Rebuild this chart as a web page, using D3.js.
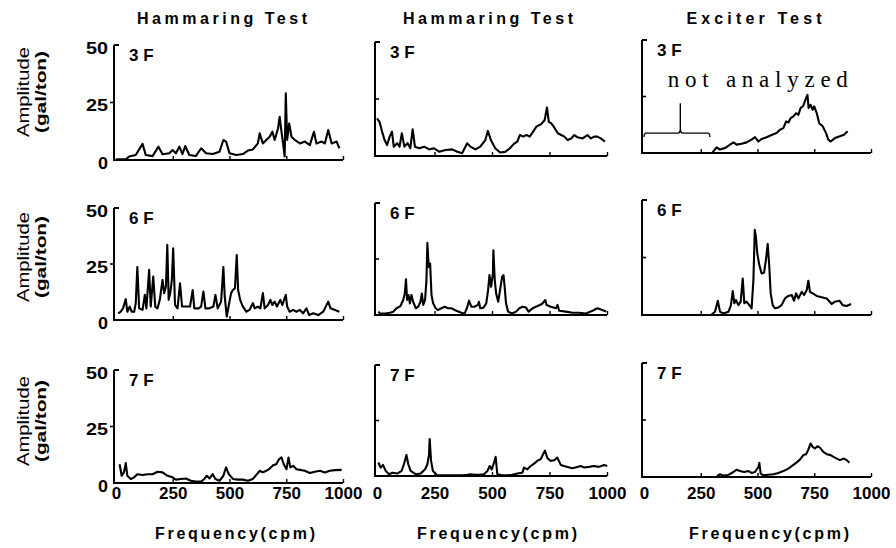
<!DOCTYPE html>
<html>
<head>
<meta charset="utf-8">
<script src="https://cdn.jsdelivr.net/npm/d3@7"></script>
<style>
  html, body { margin: 0; padding: 0; background: #fff; }
  svg { display: block; }
  text { font-family: "Liberation Sans", Arial, sans-serif; fill: #000; }
</style>
</head>
<body>
<svg id="chart" width="896" height="548"></svg>
<script>
// Column headings, floor labels and tick values
const testTitles = ["Hammaring Test", "Hammaring Test", "Exciter Test"];
const floorLabels = ["3 F", "6 F", "7 F"];
const freqTicks = [0, 250, 500, 750, 1000];
const ampTicks = [0, 25, 50];

// Fourier spectra, [frequency (cpm), amplitude (gal/ton)]
// Hammering test, first set
const hammer1_3F = [[0,0.3],[43,0.3],[58,1.5],[87,2.2],[117,7],[131,2.2],[161,1.7],[187,5.8],[205,2.5],[235,2.9],[249,4.3],[264,2.9],[279,5.8],[293,2.6],[305,6.1],[323,2.2],[352,1.7],[375,5.1],[397,2.9],[426,2.6],[456,3.6],[473,8.7],[485,8.0],[500,2.9],[530,2.2],[559,2.6],[581,4.1],[603,4.6],[625,7.2],[633,11.6],[647,7.2],[662,8.7],[677,10.1],[689,12.3],[699,8.7],[714,13.8],[721,18.8],[729,12.3],[736,7.2],[743,1.5],[748,29],[754,8.7],[763,15.9],[773,10.1],[788,8.7],[810,7.2],[832,8.0],[854,6.5],[872,12.3],[883,7.2],[906,8.0],[920,7.2],[935,13],[950,7.2],[972,8.0],[984,5.1]];
const hammer1_6F = [[10,3],[21,3.7],[31,5.2],[43,9.3],[50,3.7],[60,6],[69,3.7],[80,3.7],[87,7.5],[94,23.6],[102,5.2],[117,4.5],[127,11.2],[134,5.2],[146,22.4],[153,6],[164,19.4],[173,6],[183,5.2],[193,9],[205,17.9],[212,12],[220,15],[226,33.6],[232,9],[239,12],[246,17.9],[252,32],[260,6.7],[271,5.2],[282,16.4],[291,6],[308,6],[326,6],[338,13.4],[345,5.2],[364,5.2],[375,6],[385,12.7],[394,5.2],[411,5.2],[429,6],[438,11.2],[448,5.2],[463,8.2],[473,23.6],[479,10.4],[488,1.5],[497,6.7],[507,12],[515,13.4],[524,14.2],[532,29],[538,13.4],[547,9],[559,6],[574,3.7],[588,4.5],[603,7.5],[611,5.2],[625,6],[636,5.2],[647,12],[655,5.2],[670,6.7],[680,9],[689,6.7],[699,8.2],[709,6],[724,9],[733,6.7],[748,11.2],[754,6],[765,3.7],[780,4.5],[795,3.7],[810,4.5],[824,3],[839,5.2],[851,2.2],[869,3],[891,2.2],[913,3.7],[935,8.2],[945,5.2],[965,4.5],[984,3.7]];
const hammer1_7F = [[16,8.3],[25,3.2],[35,4.7],[43,8.8],[50,3.2],[65,1.8],[80,2.5],[94,3.9],[117,3.5],[139,3.9],[161,3.9],[183,5],[205,4.7],[227,3.2],[249,2.5],[264,1.5],[286,1.8],[308,2],[330,1],[352,0.6],[375,0.6],[389,1.8],[400,3.2],[412,2],[426,3.9],[438,1.8],[456,1],[473,3.2],[485,6.9],[497,3.9],[515,1.8],[537,1.5],[559,1.5],[581,1],[603,1.8],[621,3.9],[633,5.4],[647,4.7],[662,5.4],[677,6.4],[692,7.9],[706,8.3],[718,10.5],[729,11.3],[739,8.3],[751,6.1],[760,11.3],[768,6.9],[780,7.6],[795,6.1],[810,5.8],[832,5.4],[854,4.4],[876,5],[898,5.4],[920,4.7],[942,5.4],[965,5.7],[994,5.8]];

// Hammering test, second set
const hammer2_3F = [[0,16.5],[11,15],[22,10.7],[33,7],[44,4.8],[55,8.5],[65,10.7],[73,4.1],[88,5.6],[98,4.1],[108,10],[119,4.1],[133,5.6],[145,3.4],[155,11.7],[165,4.1],[184,3.4],[205,4.1],[227,2.9],[248,3.4],[270,1.9],[298,2.6],[327,2.9],[349,1.9],[370,1.2],[392,5.6],[406,4.1],[428,2.9],[449,4.1],[471,7],[482,11],[495,7],[514,3.4],[535,1.5],[557,1.8],[578,3.4],[595,5.3],[610,6.3],[621,9.2],[636,8.5],[650,9.2],[664,8.5],[679,10.7],[693,12.9],[714,14],[729,15.8],[739,21.3],[747,15],[758,14.3],[772,12.3],[786,10],[801,9.2],[815,8.5],[829,7],[844,7.7],[858,9.2],[872,8.2],[894,7.7],[915,9.2],[930,7.7],[944,8.5],[958,8.5],[973,7.7],[991,6.3]];
const hammer2_6F = [[6,1.5],[13,0.7],[35,0.7],[56,1],[71,1.5],[85,3],[102,4],[114,6.7],[121,9.6],[126,15.9],[131,6.7],[137,8.9],[143,5.2],[150,8.9],[157,5.9],[169,3],[179,3.7],[189,5.9],[195,9.6],[201,4.5],[209,6.7],[215,15.6],[219,32.2],[225,21.5],[231,23],[237,8.9],[244,5.2],[255,3],[264,2.2],[280,3],[294,3.7],[309,3],[323,3],[345,1.9],[367,1],[381,0.7],[391,3],[400,6.4],[410,3.7],[424,3.7],[439,4.5],[443,5.9],[449,3],[463,3.3],[475,5.2],[483,11.1],[489,17.8],[496,12.6],[504,18.5],[506,28.9],[512,15.6],[518,9.6],[527,5.9],[535,11.1],[544,17],[550,17.8],[555,12.6],[561,5.2],[570,1.5],[587,0.7],[605,1.5],[619,3],[633,3.7],[648,3.3],[659,1.5],[677,3],[698,4],[717,4.9],[732,6.7],[737,4.5],[756,3.7],[778,3],[785,4.5],[792,1.9],[821,1.5],[850,1],[879,1],[908,0.7],[937,1.9],[958,3],[980,2.2],[997,1.5]];
const hammer2_7F = [[6,6.1],[16,3.8],[26,5],[38,2.3],[52,0.8],[67,1.5],[88,1.1],[107,2.3],[117,5.3],[128,9.5],[136,5.3],[146,2.3],[168,0.8],[190,1.1],[209,3],[219,5.3],[226,9.5],[229,16.7],[235,6.8],[243,2.3],[262,0.3],[284,0.3],[313,0.3],[342,0.3],[371,0.3],[393,0.5],[407,0.8],[426,0.5],[443,0.5],[465,0.8],[480,2.3],[490,4.5],[499,3],[509,6.1],[516,8.6],[523,0.8],[545,0.3],[567,0.3],[588,0.5],[610,1.1],[632,1.5],[639,3.8],[654,3],[668,4.5],[683,5.6],[697,6.8],[712,7.6],[722,9.8],[730,11.4],[741,8],[755,6.8],[770,7.1],[784,8.3],[799,5],[813,4.5],[828,4.1],[849,3.5],[871,4.1],[886,4.5],[900,3.8],[922,4.1],[943,4.5],[965,4.1],[987,5],[1001,4.5]];

// Exciter test (3F analysed from about 300 cpm upward)
const exciter_3F = [[302,0.3],[320,2.5],[335,1.5],[357,2.2],[379,3.7],[394,4.7],[408,3.7],[430,4.1],[452,4.7],[474,5.9],[489,7],[504,5.1],[518,6.2],[540,7],[562,8],[584,8.8],[599,10.3],[614,11],[626,14],[636,13.5],[646,15.4],[658,16.2],[670,17.6],[680,16.9],[690,19.9],[702,20.9],[711,23.5],[720,25.7],[725,19.9],[734,21.3],[743,19.1],[750,20.6],[761,17.6],[772,13.2],[787,11.8],[802,8.8],[812,5.9],[822,5.1],[841,6.6],[863,7.4],[881,8.1],[897,9.6]];
const exciter_6F = [[298,0.3],[313,1.4],[325,6.2],[335,1.4],[349,0.7],[372,1.4],[383,4.3],[391,10.4],[398,5.1],[405,6.5],[416,4.3],[426,5.8],[435,15.9],[442,5.1],[452,5.8],[464,4.3],[474,2.9],[482,15.2],[488,37],[493,34],[499,26.8],[508,21.7],[518,18.1],[529,18.4],[537,23.9],[545,30.9],[552,21],[558,9.4],[567,4.3],[577,2.9],[592,3.3],[606,4.3],[621,7.2],[636,8.3],[651,8.7],[661,6.2],[670,9.4],[680,7.2],[695,10.1],[705,8.7],[717,10.9],[724,14.9],[731,10.1],[743,9.4],[761,8.3],[783,7.7],[805,7.2],[827,4.8],[841,5.8],[861,6.2],[875,4.3],[893,3.9],[912,4.8]];
const exciter_7F = [[320,0.3],[335,1.2],[349,0.6],[372,0.9],[394,2.2],[408,3.2],[423,2.6],[441,2.2],[460,2.6],[474,1.8],[489,2.2],[504,4.4],[508,6.2],[514,1.5],[526,0.7],[548,1],[570,1.2],[592,1.8],[614,2.6],[636,3.7],[655,5.1],[670,6.2],[687,7.6],[702,9.6],[714,10],[724,12],[734,14.7],[743,13.2],[753,12.5],[764,13.5],[775,12.9],[790,11],[805,10],[822,9.6],[841,8.5],[863,7.4],[881,8.1],[893,7.4],[905,6.2]];

// Panel grid: rows are floors, columns are tests
const spectra = [
  [hammer1_3F, hammer2_3F, exciter_3F],
  [hammer1_6F, hammer2_6F, exciter_6F],
  [hammer1_7F, hammer2_7F, exciter_7F]
];

// Horizontal extent of each column (frequency 0 and 1000 cpm)
const colX = [
  { x0: 116, x1: 343 },
  { x0: 377, x1: 607 },
  { x0: 644, x1: 871 }
];
// Vertical extent of each panel (amplitude 50 at top, 0 at base)
const panelY = [
  [{ top: 45, base: 160 }, { top: 42, base: 156 }, { top: 40, base: 153 }],
  [{ top: 208, base: 320 }, { top: 203, base: 315 }, { top: 200, base: 315 }],
  [{ top: 370, base: 483 }, { top: 365, base: 476 }, { top: 363, base: 477 }]
];

const svg = d3.select("#chart");
const line = d3.line().curve(d3.curveLinear);

// Column headings (letter-spaced)
const titleWidths = [170, 170, 135];
const titleCx = [222, 488, 754];
testTitles.forEach((t, c) => {
  svg.append("text")
    .attr("x", titleCx[c] - titleWidths[c] / 2)
    .attr("y", 24)
    .attr("textLength", titleWidths[c])
    .attr("lengthAdjust", "spacing")
    .style("font-size", "16px")
    .style("font-weight", "bold")
    .text(t);
});

// Y-axis titles on the left of every row
[92, 257, 421].forEach(cy => {
  svg.append("text")
    .attr("transform", `translate(29,${cy}) rotate(-90)`)
    .attr("text-anchor", "middle")
    .attr("textLength", 90)
    .attr("lengthAdjust", "spacingAndGlyphs")
    .style("font-size", "16px")
    .text("Amplitude");
  svg.append("text")
    .attr("transform", `translate(46,${cy}) rotate(-90)`)
    .attr("text-anchor", "middle")
    .attr("textLength", 82)
    .attr("lengthAdjust", "spacingAndGlyphs")
    .style("font-size", "15px")
    .style("font-weight", "bold")
    .text("(gal/ton)");
});

// X-axis titles under each column
const freqCx = [235, 497, 769];
freqCx.forEach(cx => {
  svg.append("text")
    .attr("x", cx - 80)
    .attr("y", 539)
    .attr("textLength", 160)
    .attr("lengthAdjust", "spacing")
    .style("font-size", "16px")
    .style("font-weight", "bold")
    .text("Frequency(cpm)");
});

spectra.forEach((row, r) => {
  row.forEach((data, c) => {
    const { x0, x1 } = colX[c];
    const { top, base } = panelY[r][c];
    const x = d3.scaleLinear().domain([0, 1000]).range([x0, x1]);
    const y = d3.scaleLinear().domain([0, 50]).range([base, top]);
    const g = svg.append("g");
    const ax = x0 - 2;

    // Frame: vertical amplitude axis and frequency baseline
    g.append("line")
      .attr("x1", ax).attr("x2", ax)
      .attr("y1", y(50)).attr("y2", y(0) + 1)
      .attr("stroke", "#000").attr("stroke-width", 2);
    g.append("line")
      .attr("x1", ax - 1).attr("x2", x(1000))
      .attr("y1", y(0)).attr("y2", y(0))
      .attr("stroke", "#000").attr("stroke-width", 2.2);

    // Amplitude ticks: 50 points inward, 25 points outward on the first column
    g.append("line")
      .attr("x1", ax).attr("x2", ax + 5)
      .attr("y1", y(50)).attr("y2", y(50))
      .attr("stroke", "#000").attr("stroke-width", 2);
    const dir25 = c === 0 ? -4 : 4;
    g.append("line")
      .attr("x1", ax).attr("x2", ax + dir25)
      .attr("y1", y(25)).attr("y2", y(25))
      .attr("stroke", "#000").attr("stroke-width", 1.6);

    // Frequency ticks pointing up from the baseline
    g.append("g")
      .attr("transform", `translate(0,${y(0)})`)
      .call(d3.axisBottom(x).tickValues([250, 500, 750, 1000]).tickSize(-4).tickSizeOuter(0).tickFormat(""))
      .call(s => s.select(".domain").remove())
      .call(s => s.selectAll(".tick line").attr("stroke-width", 1.4));

    // Amplitude tick labels on the first column
    if (c === 0) {
      const ya = g.append("g")
        .attr("transform", `translate(${ax - 3},3)`)
        .call(d3.axisLeft(y).tickValues(ampTicks).tickSize(0).tickPadding(3));
      ya.select(".domain").remove();
      ya.selectAll("text")
        .style("font-family", "'Liberation Sans', Arial, sans-serif")
        .style("font-size", "17px")
        .style("font-weight", "bold")
        .attr("textLength", d => d === 0 ? 10 : 22)
        .attr("lengthAdjust", "spacingAndGlyphs");
    }

    // Frequency tick labels along the bottom row
    if (r === 2) {
      const xa = g.append("g")
        .attr("transform", `translate(0,487)`)
        .call(d3.axisBottom(x).tickValues(freqTicks).tickSize(0).tickPadding(0).tickFormat(d3.format("d")));
      xa.select(".domain").remove();
      xa.selectAll("text")
        .style("font-family", "'Liberation Sans', Arial, sans-serif")
        .style("font-size", "17px")
        .style("font-weight", "bold");
    }

    // Floor label
    g.append("text")
      .attr("x", ax + 15)
      .attr("y", top + 16)
      .style("font-size", "17px")
      .style("font-weight", "bold")
      .text(floorLabels[r]);

    // Spectrum trace
    g.append("path")
      .attr("d", line(data.map(d => [x(d[0]), y(d[1])])))
      .attr("fill", "none")
      .attr("stroke", "#000")
      .attr("stroke-width", 2.1)
      .attr("stroke-linejoin", "round");

    // Exciter test, 3F: the low-frequency band was not analysed
    if (r === 0 && c === 2) {
      const by = y(8.8);
      g.append("path")
        .attr("d", `M${x(0)},${by + 4} Q${x(0)},${by} ${x(10)},${by} L${x(150)},${by} Q${x(157)},${by} ${x(160)},${by - 3} Q${x(163)},${by} ${x(170)},${by} L${x(282)},${by} Q${x(290)},${by} ${x(290)},${by + 4}`)
        .attr("fill", "none")
        .attr("stroke", "#000")
        .attr("stroke-width", 1.4);
      g.append("line")
        .attr("x1", x(160)).attr("x2", x(160))
        .attr("y1", y(22)).attr("y2", by - 3)
        .attr("stroke", "#000").attr("stroke-width", 1.4);
      g.append("text")
        .attr("x", x(105))
        .attr("y", y(29))
        .attr("textLength", 180)
        .attr("lengthAdjust", "spacing")
        .style("font-family", "'Liberation Serif', 'DejaVu Serif', serif")
        .style("font-size", "23px")
        .text("not analyzed");
    }
  });
});
</script>
</body>
</html>
